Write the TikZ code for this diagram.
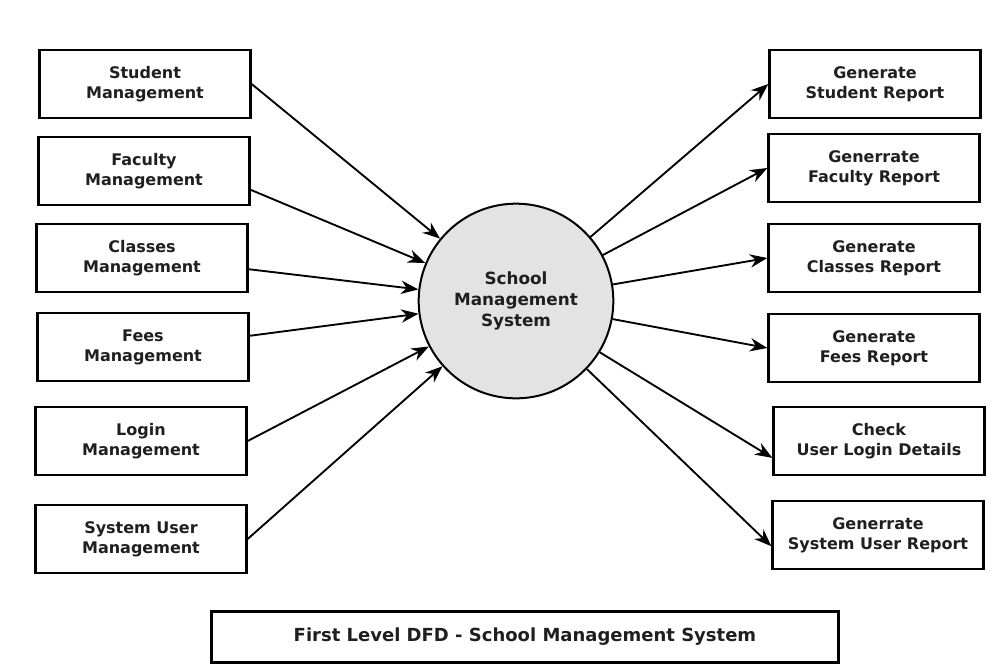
\documentclass[tikz,border=0pt]{standalone}
\usepackage{fontspec}
\setmainfont{DejaVu Sans}
\usetikzlibrary{arrows.meta, positioning}

\begin{document}
\begin{tikzpicture}[
    x=0.75pt, y=-0.75pt,
    >=Stealth,
    procbox/.style={
        rectangle, draw, line width=2pt, minimum width=158pt, minimum height=51pt,
        align=center, font=\fontsize{12}{15}\selectfont\bfseries, text=black!88,
        inner sep=2pt
    },
    sysnode/.style={
        circle, draw, line width=1.5pt, fill=black!11, minimum size=146pt,
        align=center, font=\fontsize{12.6}{15.5}\selectfont\bfseries, text=black!88,
        inner sep=0pt
    },
    titlebox/.style={procbox, minimum width=470pt, minimum height=38pt,
        font=\fontsize{13.5}{16}\selectfont\bfseries},
    flow/.style={draw, line width=1.4pt, -{Stealth[length=13pt, width=10pt]}},
]
\useasboundingbox (0,0) rectangle (1000,668);

% ================================================================
%  CENTRE: THE SYSTEM PROCESS
% ================================================================
\node[sysnode] (sms) at (516, 301) {School\\Management\\System};

% ================================================================
%  LEFT: MANAGEMENT MODULES (inputs)
% ================================================================
\node[procbox] (stud_mgmt)  at (145, 84)  {Student\\Management};
\node[procbox] (fac_mgmt)   at (144, 171) {Faculty\\Management};
\node[procbox] (cls_mgmt)   at (142, 258) {Classes\\Management};
\node[procbox] (fees_mgmt)  at (143, 347) {Fees\\Management};
\node[procbox] (login_mgmt) at (141, 441) {Login\\Management};
\node[procbox] (user_mgmt)  at (141, 539) {System User\\Management};

\draw[flow] (stud_mgmt.east)  -- (sms);
\draw[flow] (fac_mgmt.-10)    -- (sms);
\draw[flow] (cls_mgmt.-6)     -- (sms);
\draw[flow] (fees_mgmt.6)     -- (sms);
\draw[flow] (login_mgmt.east) -- (sms);
\draw[flow] (user_mgmt.east)  -- (sms);

% ================================================================
%  RIGHT: REPORTS (outputs)
% ================================================================
\node[procbox] (stud_rep)  at (875, 84)  {Generate\\Student Report};
\node[procbox] (fac_rep)   at (874, 168) {Generrate\\Faculty Report};
\node[procbox] (cls_rep)   at (874, 258) {Generate\\Classes Report};
\node[procbox] (fees_rep)  at (874, 348) {Generate\\Fees Report};
\node[procbox] (login_rep) at (879, 441) {Check\\User Login Details};
\node[procbox] (user_rep)  at (878, 535) {Generrate\\System User Report};

\draw[flow] (sms) -- (stud_rep.west);
\draw[flow] (sms) -- (fac_rep.west);
\draw[flow] (sms) -- (cls_rep.west);
\draw[flow] (sms) -- (fees_rep.west);
\draw[flow] (sms) -- (login_rep.189);
\draw[flow] (sms) -- (user_rep.186);

% ================================================================
%  CAPTION
% ================================================================
\node[titlebox] (caption) at (525, 637) {First Level DFD - School Management System};

\end{tikzpicture}
\end{document}
